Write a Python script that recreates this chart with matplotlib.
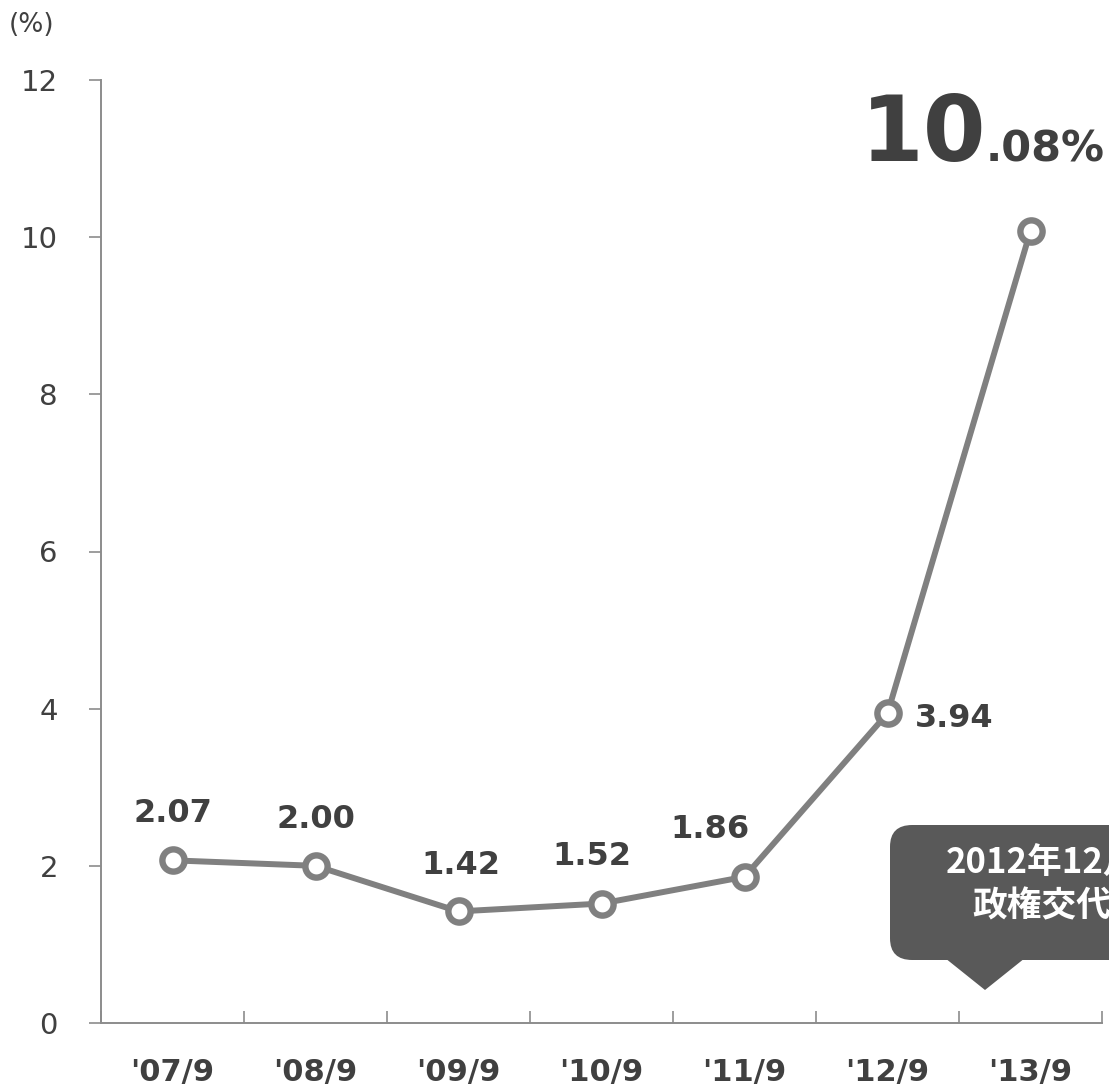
import numpy as np
import matplotlib
matplotlib.use("Agg")
import matplotlib.pyplot as plt
from matplotlib.patches import FancyBboxPatch, Polygon

# data
periods = ["'07/9", "'08/9", "'09/9", "'10/9", "'11/9", "'12/9", "'13/9"]
rates = [2.07, 2.00, 1.42, 1.52, 1.86, 3.94, 10.08]
rate_labels = ["2.07", "2.00", "1.42", "1.52", "1.86", "3.94", ""]
yticks = [0, 2, 4, 6, 8, 10, 12]

W, H = 1109, 1085
fig = plt.figure(figsize=(W / 100, H / 100), dpi=100)
ax = fig.add_axes([101 / W, 1 - 1023 / H, (1102 - 101) / W, (1023 - 80) / H])

axis_c = "#8c8c8c"
line_c = "#808080"
txt_c = "#404040"

x = np.arange(len(periods))
ax.plot(x, rates, color=line_c, lw=4.3, zorder=3, solid_capstyle="round")
ax.plot(x, rates, "o", ms=16, mfc="white", mec=line_c, mew=4.6, zorder=4)

ax.set_xlim(-0.5, len(periods) - 0.5)
ax.set_ylim(0, 12)
ax.set_yticks(yticks)
ax.set_yticklabels([str(v) for v in yticks], fontsize=21, color=txt_c)
ax.set_xticks(np.arange(len(periods) + 1) - 0.5, minor=False)
ax.set_xticklabels([])
ax.set_xticks(x, minor=True)
ax.set_xticklabels(periods, minor=True, fontsize=22, fontweight="bold", color=txt_c)
ax.tick_params(axis="x", which="major", direction="in", length=9, width=1.2, color=axis_c)
ax.tick_params(axis="x", which="minor", length=0, pad=25)
ax.tick_params(axis="y", direction="out", length=9, width=1.2, color=axis_c, pad=22)
for s in ["top", "right"]:
    ax.spines[s].set_visible(False)
for s in ["left", "bottom"]:
    ax.spines[s].set_color(axis_c)
    ax.spines[s].set_linewidth(1.4)

fig.text(9 / W, 1 - 25 / H, "(%)", fontsize=19, color=txt_c, va="center", ha="left")

# value labels (offsets in points, dpi=100)
offs = [(0, 34), (0, 33), (2, 33), (-7, 34), (-25, 34)]
for i, (dx, dy) in enumerate(offs):
    ax.annotate(rate_labels[i], (x[i], rates[i]), xytext=(dx, dy), textcoords="offset points",
                ha="center", va="center", fontsize=23, fontweight="bold", color=txt_c)
ax.annotate(rate_labels[5], (x[5], rates[5]), xytext=(20, -4), textcoords="offset points",
            ha="left", va="center", fontsize=23, fontweight="bold", color=txt_c)

# big label for last point
ax.annotate("10", (x[6], rates[6]), xytext=(-122, 50), textcoords="offset points",
            ha="left", va="baseline", fontsize=65, fontweight="bold", color=txt_c,
            annotation_clip=False)
ax.annotate(".08%", (x[6], rates[6]), xytext=(-32, 50), textcoords="offset points",
            ha="left", va="baseline", fontsize=31, fontweight="bold", color=txt_c,
            annotation_clip=False)

# callout
box_c = "#595959"
bx0, bx1, by0, by1 = 890, 1240, 825, 960
fig.patches.append(FancyBboxPatch((bx0 / W, 1 - by1 / H), (bx1 - bx0) / W, (by1 - by0) / H,
                                  boxstyle="round,pad=0,rounding_size=0.02",
                                  transform=fig.transFigure, fc=box_c, ec="none"))
fig.patches.append(Polygon([(945 / W, 1 - 958 / H), (1025 / W, 1 - 958 / H), (985 / W, 1 - 990 / H)],
                           closed=True, transform=fig.transFigure, fc=box_c, ec="none"))
fig.text(1042 / W, 1 - 863 / H, "2012年12月", fontsize=25, fontweight="bold", color="white",
         ha="center", va="center", family=["Noto Sans CJK JP", "DejaVu Sans"])
fig.text(1042 / W, 1 - 906 / H, "政権交代", fontsize=25, fontweight="bold", color="white",
         ha="center", va="center", family=["Noto Sans CJK JP", "DejaVu Sans"])

fig.savefig("out.png", dpi=100)
